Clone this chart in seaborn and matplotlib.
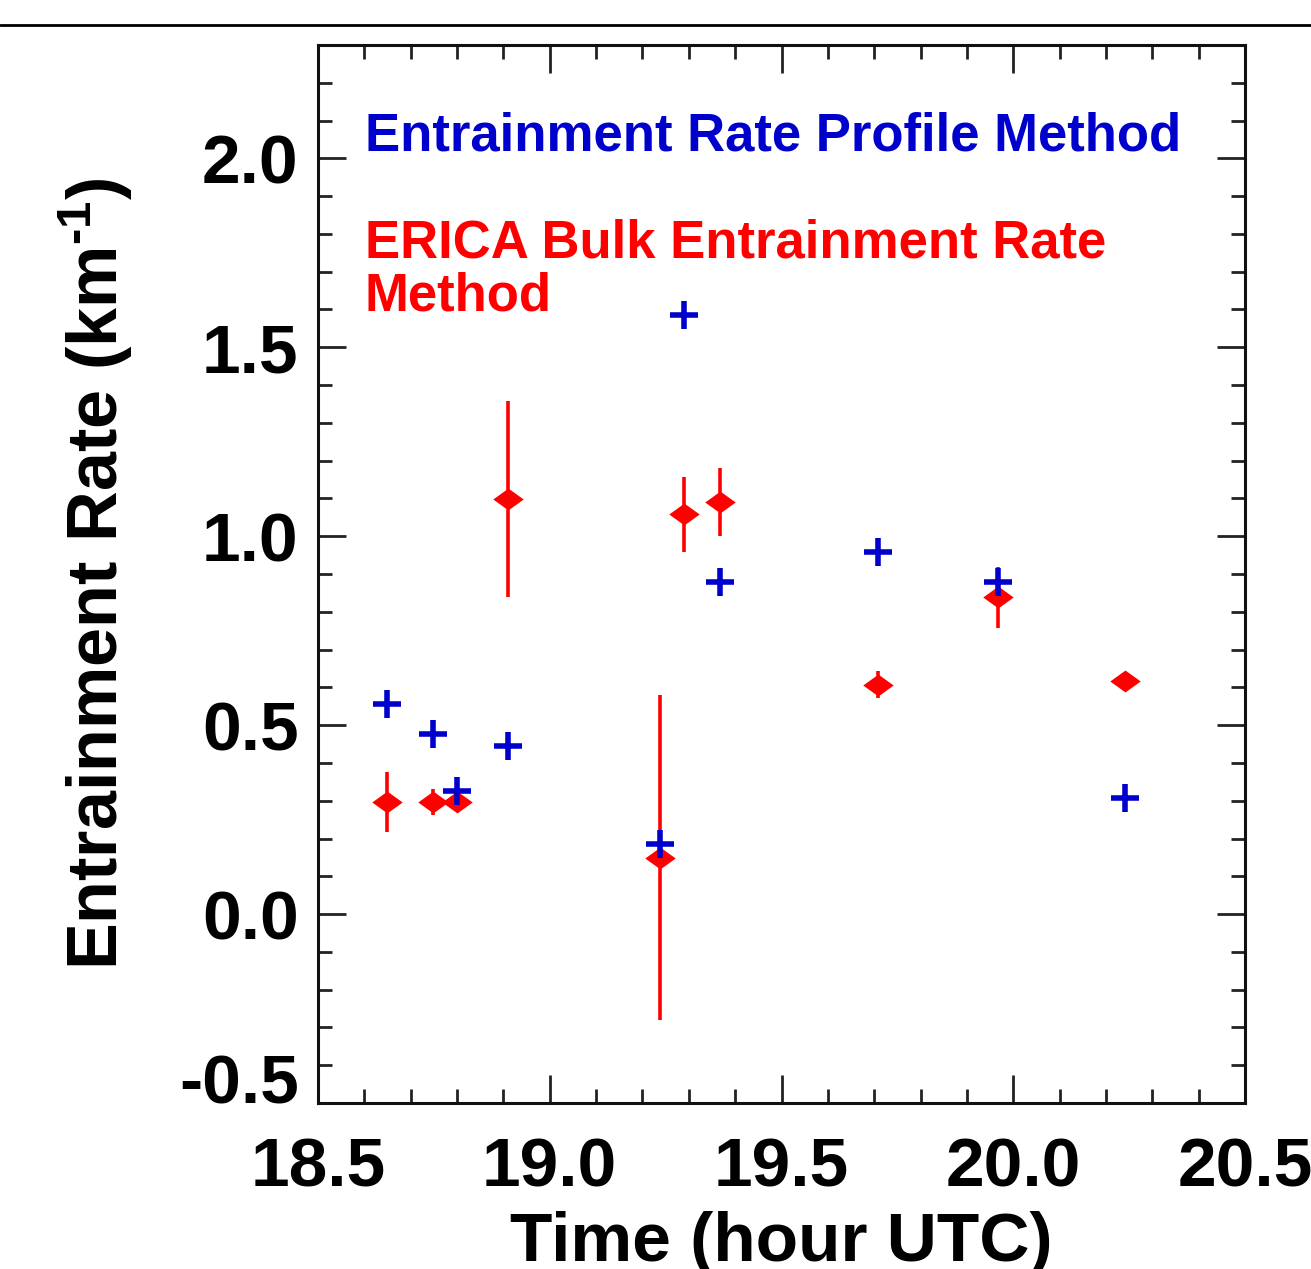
import matplotlib
matplotlib.use("Agg")
import matplotlib.pyplot as plt
import seaborn as sns
import numpy as np
import pandas as pd
from matplotlib.lines import Line2D
from matplotlib.ticker import MultipleLocator, FormatStrFormatter

# Data
profile_time = [18.649, 18.748, 18.800, 18.910, 19.238, 19.290, 19.367, 19.708, 19.967, 20.241]
profile_rate = [0.557, 0.477, 0.326, 0.446, 0.186, 1.586, 0.878, 0.958, 0.878, 0.308]

bulk_time = [18.649, 18.748, 18.800, 18.910, 19.238, 19.290, 19.367, 19.708, 19.967, 20.241]
bulk_rate = [0.297, 0.297, 0.297, 1.098, 0.149, 1.058, 1.090, 0.607, 0.838, 0.618]
bulk_err = [0.080, 0.035, 0.015, 0.260, 0.430, 0.100, 0.090, 0.035, 0.080, 0.020]

x_ticks = [18.5, 19.0, 19.5, 20.0, 20.5]
y_ticks = [-0.5, 0.0, 0.5, 1.0, 1.5, 2.0]

blue = "#0000CC"
red = "#FF0000"

sns.set_theme(style="ticks")
plt.rcParams['font.family'] = ['Liberation Sans', 'DejaVu Sans']
plt.rcParams['font.weight'] = 'bold'
plt.rcParams['axes.labelweight'] = 'bold'
plt.rcParams['mathtext.fontset'] = 'custom'
plt.rcParams['mathtext.rm'] = 'Liberation Sans:bold'
plt.rcParams['mathtext.bf'] = 'Liberation Sans:bold'
plt.rcParams['mathtext.it'] = 'Liberation Sans:bold'

fig = plt.figure(figsize=(13.11, 12.69), dpi=100)
ax = fig.add_axes([318/1311, 1 - 1103/1269, (1245-318)/1311, (1103-45)/1269])

df_p = pd.DataFrame({"time": profile_time, "rate": profile_rate})
df_b = pd.DataFrame({"time": bulk_time, "rate": bulk_rate, "err": bulk_err})

ax.errorbar(df_b["time"], df_b["rate"], yerr=df_b["err"], fmt="none",
            ecolor=red, elinewidth=2.6, capsize=0, zorder=2)
diamond = [(-1, 0), (0, 0.72), (1, 0), (0, -0.72), (-1, 0)]
sns.scatterplot(data=df_b, x="time", y="rate", ax=ax, marker=diamond, s=480,
                color=red, edgecolor=red, linewidth=0, zorder=3, legend=False)
sns.scatterplot(data=df_p, x="time", y="rate", ax=ax, marker="+", s=420,
                color=blue, linewidth=4.0, zorder=4, legend=False)

ax.set_xlim(18.5, 20.5)
ax.set_ylim(-0.5, 2.3)
ax.set_xticks(x_ticks)
ax.set_yticks(y_ticks)
ax.xaxis.set_minor_locator(MultipleLocator(0.1))
ax.yaxis.set_minor_locator(MultipleLocator(0.1))
ax.xaxis.set_major_formatter(FormatStrFormatter('%.1f'))
ax.yaxis.set_major_formatter(FormatStrFormatter('%.1f'))

ax.tick_params(axis='both', which='both', direction='in', top=True, right=True,
               width=2, colors='#222222', labelcolor='black')
ax.tick_params(axis='both', which='major', length=20, labelsize=50)
ax.tick_params(axis='both', which='minor', length=10)
ax.tick_params(axis='x', which='major', pad=24)
ax.tick_params(axis='y', which='major', pad=14)
for lbl in ax.get_xticklabels() + ax.get_yticklabels():
    lbl.set_fontweight('bold')
for sp in ax.spines.values():
    sp.set_linewidth(2.2)
    sp.set_color('#111111')

ax.set_xlabel("Time (hour UTC)", fontsize=50, fontweight='bold', labelpad=8, color='black')
ax.set_ylabel(r"Entrainment Rate (km$^{\text{-}\mathbf{1}}$)", fontsize=50.5,
              fontweight='bold', color='black')
ax.yaxis.set_label_coords(-0.197, 0.5)

ax.text(0.0507, 0.900, "Entrainment Rate Profile Method", transform=ax.transAxes,
        color=blue, fontsize=38, fontweight='bold', va='baseline', ha='left')
ax.text(0.0507, 0.7987, "ERICA Bulk Entrainment Rate", transform=ax.transAxes,
        color=red, fontsize=38, fontweight='bold', va='baseline', ha='left')
ax.text(0.0507, 0.7490, "Method", transform=ax.transAxes,
        color=red, fontsize=38, fontweight='bold', va='baseline', ha='left')

fig.add_artist(Line2D([0, 1], [1 - 25/1269, 1 - 25/1269], transform=fig.transFigure,
                      color='black', linewidth=2))

fig.canvas.draw()
ylabels = ax.get_yticklabels()
ylabels[0].set_verticalalignment('baseline')

fig.savefig("out.png", dpi=100)
